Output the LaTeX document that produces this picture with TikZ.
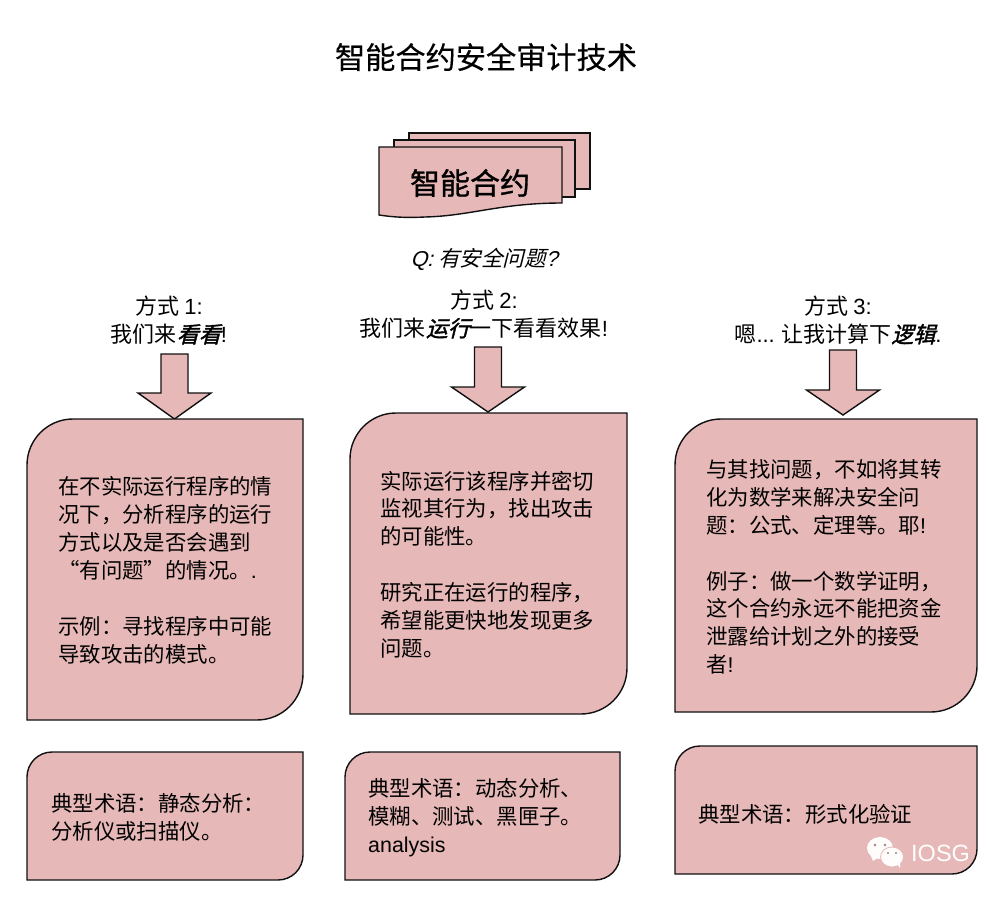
\documentclass[tikz,border=0pt]{standalone}
\usepackage{fontspec}
\setmainfont{Noto Sans CJK SC}[AutoFakeSlant=0.25]
\newfontfamily\la{Liberation Sans}[AutoFakeSlant=0.25]
\newfontfamily\bsl{Noto Sans CJK SC}[FakeSlant=0.25,FakeBold=1.6]
\newfontfamily\semi{Noto Sans CJK SC}[FakeBold=1.0]
\newfontfamily\lightbold{Noto Sans CJK SC}[FakeBold=0.4]
\newcommand{\lat}[1]{{\la #1}}
\definecolor{pinkfill}{HTML}{E6B8B7}
\definecolor{edgeink}{HTML}{111111}
\tikzset{
  x=1pt,y=-1pt,
  shapeline/.style={draw=edgeink,fill=pinkfill,line width=1.4pt,line join=miter},
  bodytext/.style={anchor=west,align=left,inner sep=0pt,text=black,font=\fontsize{21.4}{27.9}\selectfont},
  headtext/.style={align=center,inner sep=0pt,text=black,font=\fontsize{22}{28.4}\selectfont},
}
\newcommand{\pinkbox}[5]{\path[shapeline] (#1,#4) [rounded corners=#5 pt] -- (#1,#2) [sharp corners] -- (#3,#2) [rounded corners=#5 pt] -- (#3,#4) [sharp corners] -- cycle;}
\newcommand{\downarrowshape}[4]{% centre x, top y, shaft bottom y, tip y
  \path[shapeline] ({#1-13.5},#2) -- ({#1+13.5},#2) -- ({#1+13.5},#3) -- ({#1+36.5},#3) -- (#1,#4) -- ({#1-36.5},#3) -- ({#1-13.5},#3) -- cycle;}
\begin{document}
\begin{tikzpicture}
\useasboundingbox (0,0) rectangle (1000,896);
\fill[white] (0,0) rectangle (1000,896);
\node[inner sep=0pt,font=\fontsize{30.2}{34}\selectfont\lightbold] (title) at (486,57) {智能合约安全审计技术};
% document stack
\path[shapeline] (409,133) -- (590,133) -- (590,189) -- (409,189) -- cycle;
\path[shapeline] (394,140) -- (575,140) -- (575,197) -- (394,197) -- cycle;
\path[shapeline] (379,147) -- (562,147) -- (562,203) .. controls (500,203) and (470,216) .. (425,217) .. controls (405,218) and (392,217) .. (379,215) -- cycle;
\node[inner sep=0pt,font=\fontsize{30}{34}\selectfont\semi] (doc) at (470,183) {智能合约};
\node[inner sep=0pt,font=\fontsize{21.5}{24}\selectfont\itshape] (q) at (484,259) {\lat{Q:} 有安全问题\lat{?}};
% headings
\node[headtext] (h1) at (169,320) {方式 \lat{1:}\\我们来{\bsl 看看}\lat{!}};
\node[headtext] (h2) at (484,314) {方式 \lat{2:}\\我们来{\bsl 运行}一下看看效果\lat{!}};
\node[headtext] (h3) at (838,320) {方式 \lat{3:}\\嗯\lat{...} 让我计算下{\bsl 逻辑}\lat{.}};
% arrows
\downarrowshape{174.5}{354}{393}{419}
\downarrowshape{488}{347}{387}{412}
\downarrowshape{843}{350}{390}{415}
% main boxes
\pinkbox{27}{419}{303}{720}{46}
\pinkbox{350}{413}{627}{714}{46}
\pinkbox{675}{419}{977}{712}{46}
% lower boxes
\pinkbox{27}{752}{303}{880}{25}
\pinkbox{345}{752}{620}{880}{25}
\pinkbox{675}{746}{977}{874}{25}
% texts
\node[bodytext] (t1) at (58,570.5) {在不实际运行程序的情\\况下，分析程序的运行\\方式以及是否会遇到\\“有问题”的情况。\lat{.}\\[27.9pt]示例：寻找程序中可能\\导致攻击的模式。};
\node[bodytext] (t2) at (380,564.5) {实际运行该程序并密切\\监视其行为，找出攻击\\的可能性。\\[27.9pt]研究正在运行的程序，\\希望能更快地发现更多\\问题。};
\node[bodytext] (t3) at (706,567) {与其找问题，不如将其转\\化为数学来解决安全问\\题：公式、定理等。耶\lat{!}\\[27.9pt]例子：做一个数学证明，\\这个合约永远不能把资金\\泄露给计划之外的接受\\者\lat{!}};
\node[bodytext] (b1) at (51,817) {典型术语：静态分析：\\分析仪或扫描仪。};
\node[bodytext] (b2) at (368,818) {典型术语：动态分析、\\模糊、测试、黑匣子。\\\lat{analysis}};
\node[bodytext] (b3) at (698,814) {典型术语：形式化验证};
% watermark
\fill[white!96!pink] (880,848) ellipse [x radius=13,y radius=11];
\fill[white!96!pink] (871,856) -- (873,861) -- (879,857) -- cycle;
\path[fill=white!96!pink,draw=pinkfill,line width=0.8pt] (892,857) ellipse [x radius=11.5,y radius=10];
\fill[white!96!pink] (897,864) -- (900,868) -- (900,862) -- cycle;
\fill[pinkfill!70!black] (875,845) circle (1.3) (885,845) circle (1.3) (888,853) circle (1.1) (896,853) circle (1.1);
\node[inner sep=0pt,anchor=west,text=white,font=\fontsize{23.5}{28}\selectfont\la] (mark) at (911,853.5) {IOSG};
\end{tikzpicture}
\end{document}
